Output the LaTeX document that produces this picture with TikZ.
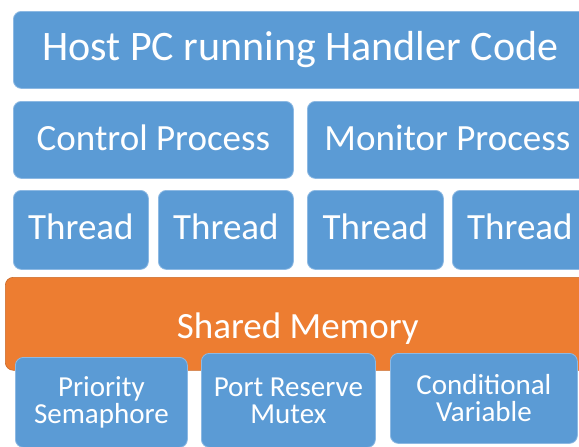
\documentclass[tikz,border=0pt]{standalone}
\usepackage{fontspec}
\setmainfont{Carlito}
\definecolor{boxblue}{HTML}{5B9BD5}
\definecolor{boxedge}{HTML}{8DB9E3}
\definecolor{memorange}{HTML}{ED7D31}
\definecolor{memedge}{HTML}{C96A2A}
\begin{document}
\begin{tikzpicture}[x=1pt,y=-1pt,
  bluebox/.style={rectangle, rounded corners=8pt, fill=boxblue, draw=boxedge, line width=0.8pt,
    text=white, inner sep=0pt, anchor=north west, align=center},
  orangebox/.style={rectangle, rounded corners=8pt, fill=memorange, draw=memedge, line width=0.6pt,
    text=white, inner sep=0pt, anchor=north west, align=center},
  hugefont/.style={font=\fontsize{42}{44}\selectfont, text height=21pt, text depth=0pt},
  bigfont/.style={font=\fontsize{37}{39}\selectfont, text height=21pt, text depth=0pt},
  threadfont/.style={font=\fontsize{37}{39}\selectfont, text height=19pt, text depth=0pt},
  memfont/.style={font=\fontsize{37}{39}\selectfont, text height=29pt, text depth=0pt},
  smallfont/.style={font=\fontsize{29}{27}\selectfont}]
\useasboundingbox (0,0) rectangle (579,447);
\clip (0,0) rectangle (579,447);
\fill[white] (0,0) rectangle (579,447);

\node[bluebox, hugefont, minimum width=574pt, minimum height=77pt] (host) at (13,11) {Host PC running Handler Code};
\node[bluebox, bigfont, minimum width=280pt, minimum height=77pt] (ctrl) at (13,101) {Control Process};
\node[bluebox, bigfont, minimum width=280pt, minimum height=77pt] (mon) at (307,101) {Monitor Process};

\node[bluebox, threadfont, minimum width=135pt, minimum height=79pt] (t1) at (13,190) {Thread};
\node[bluebox, threadfont, minimum width=135pt, minimum height=79pt] (t2) at (158,190) {Thread};
\node[bluebox, threadfont, minimum width=136pt, minimum height=79pt] (t3) at (307,190) {Thread};
\node[bluebox, threadfont, minimum width=135pt, minimum height=79pt] (t4) at (452,190) {Thread};

\node[orangebox, memfont, minimum width=585pt, minimum height=93pt] (shm) at (5,277) {Shared Memory};

\node[bluebox, smallfont, minimum width=172pt, minimum height=90pt] (sem) at (15,357) {Priority\\Semaphore};
\node[bluebox, smallfont, minimum width=174pt, minimum height=94pt] (mutex) at (201,353) {Port Reserve\\Mutex};
\node[bluebox, smallfont, minimum width=187pt, minimum height=90pt] (cond) at (390,353) {Conditional\\Variable};
\end{tikzpicture}
\end{document}
